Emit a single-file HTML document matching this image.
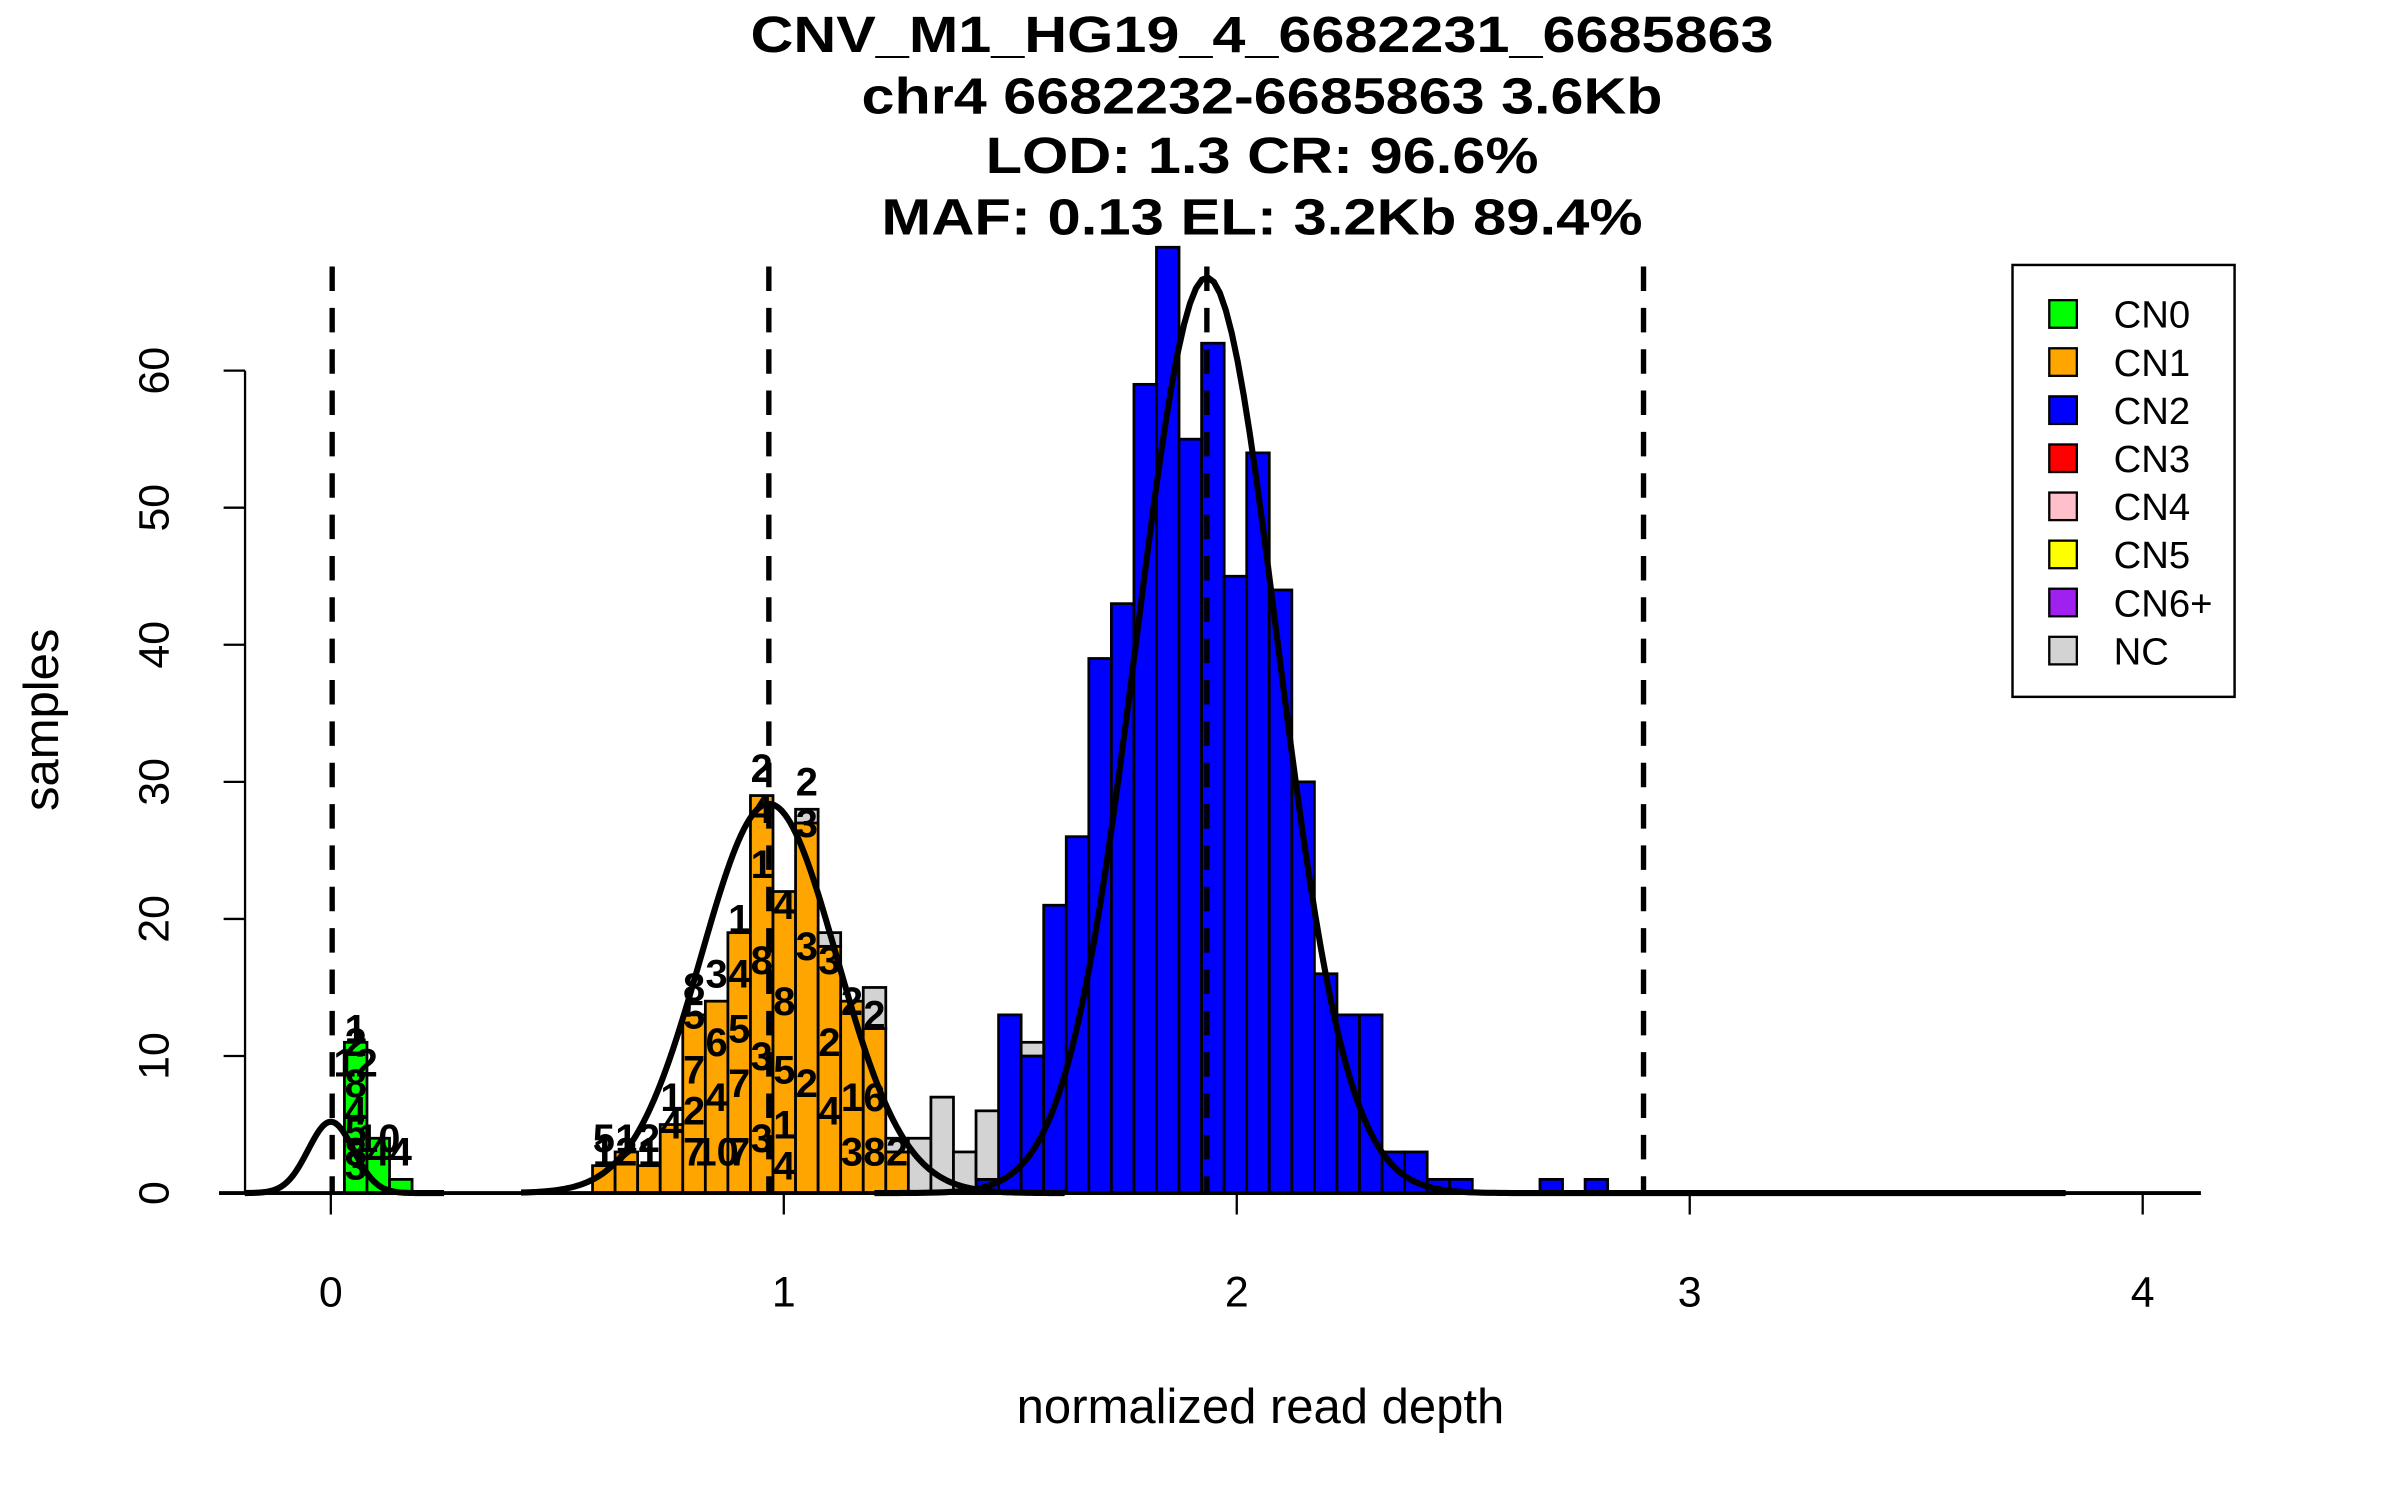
<!DOCTYPE html>
<html><head><meta charset="utf-8"><style>
html,body{margin:0;padding:0;background:#fff;}
svg{display:block;}
text{font-family:"Liberation Sans",sans-serif;}
</style></head><body>
<svg id="chart" width="2400" height="1500" viewBox="0 0 1567 979.4" preserveAspectRatio="none" xmlns="http://www.w3.org/2000/svg">
<rect x="0" y="0" width="1567" height="980" fill="#fff"/>
<g font-weight="bold" font-size="33" text-anchor="middle">
<text x="824" y="34" textLength="668" lengthAdjust="spacingAndGlyphs">CNV_M1_HG19_4_6682231_6685863</text>
<text x="824" y="74" textLength="523" lengthAdjust="spacingAndGlyphs">chr4 6682232-6685863 3.6Kb</text>
<text x="824" y="113" textLength="361" lengthAdjust="spacingAndGlyphs">LOD: 1.3 CR: 96.6%</text>
<text x="824" y="153" textLength="497" lengthAdjust="spacingAndGlyphs">MAF: 0.13 EL: 3.2Kb 89.4%</text>
</g>
<g id="bars"></g>
<g id="labels" font-weight="bold" font-size="26" text-anchor="middle"></g>
<g id="curves"></g>
<g id="thresholds"></g>
<g id="axes"></g>
<text x="823" y="929" font-size="32" text-anchor="middle">normalized read depth</text>
<text x="0" y="0" font-size="32" text-anchor="middle" transform="translate(38,470) rotate(-90)">samples</text>
<g>
<rect x="1314" y="173" width="145" height="282" fill="#fff" stroke="#000" stroke-width="1.6"/>
<g id="legend-items"></g>
</g>
</svg>
<script>
// ---- data ----
const binStart = 0.030;
const binWidth = 0.0498;
const greenCounts = [11, 4, 1];            // bins 0..2 (CN0)
const orangeBins = [11,12,13,14,15,16,17,18,19,20,21,22,23,24];
const orangeCounts = [2,3,2,5,13,14,19,29,22,27,18,14,12,3];  // CN1
const blueBins = [28,29,30,31,32,33,34,35,36,37,38,39,40,41,42,43,44,45,46,47,48,49,53,55];
const blueCounts = [1,13,10,21,26,39,43,59,69,55,62,45,54,44,30,16,13,13,3,3,1,1,1,1]; // CN2
const grayBins = [20,21,23,24,25,26,27,28,30];
const grayCounts = [1,1,3,1,4,7,3,5,1];     // NC
const thresholds = [0.003, 0.967, 1.934, 2.898];
const compMeans = [0.0, 0.967, 1.934];
const compSds = [0.05, 0.15, 0.155];
const compPeaks = [5.2, 28.4, 66.8];
const compFrom = [-0.19, 0.42, 1.2];
const compTo = [0.25, 1.62, 3.83];
const xTicks = [0, 1, 2, 3, 4];
const yTicks = [0, 10, 20, 30, 40, 50, 60];
const labelBins = [0,0,0,0,0,0,0,0,1,1,2, 11,11,12,12,13,13,14,14,15,15,15,15,15,16,16,16,16,17,17,17,17,17,18,18,18,18,18,18,19,19,19,19,19,20,20,20,20,21,21,21,22,22,22,23,23,23,24];
const labelLevels = [12,11,9.5,8,6,4.5,3,2,4,3,3, 4,3,4,3,4,3,7,5,15,13,9,6,3,16,11,7,3,20,16,12,8,3,31,28,24,17,10,4,21,14,9,5,2,30,27,18,8,17,11,6,14,7,3,13,7,3,3];
const labelTexts = ['1','2','12','8','4','5','8','3','10','4','4','5','1','1','2','2','1','1','4','8','5','7','2','7','3','6','4','10','1','4','5','7','7','2','4','1','8','3','3','4','8','5','1','4','2','3','3','2','3','2','4','2','1','3','2','6','8','2'];
const legendLabels = ['CN0','CN1','CN2','CN3','CN4','CN5','CN6+','NC'];
const legendColors = ['#00ff00','#ffa500','#0000ff','#ff0000','#ffc0cb','#ffff00','#a020f0','#d3d3d3'];

// ---- scales ----
const X0 = 216, XU = 295.75, Y0 = 779, YU = 8.95;
const sx = v => X0 + v * XU;
const sy = c => Y0 - c * YU;
const NS = 'http://www.w3.org/2000/svg';
function mk(tag, attrs, parent) {
  const e = document.createElementNS(NS, tag);
  for (const k in attrs) e.setAttribute(k, attrs[k]);
  parent.appendChild(e);
  return e;
}
const bars = document.getElementById('bars');
const base = {};
function bar(bin, count, color, name) {
  const b0 = base[bin] || 0;
  const x1 = sx(binStart + bin * binWidth), x2 = sx(binStart + (bin + 1) * binWidth);
  const r = mk('rect', {x: x1, y: sy(b0 + count), width: x2 - x1, height: count * YU, fill: color, stroke: '#000', 'stroke-width': 1.8}, bars);
  
  
  base[bin] = b0 + count;
}
greenCounts.forEach((c, i) => bar(i, c, '#00ff00', 'bar-cn0'));
orangeBins.forEach((b, i) => bar(b, orangeCounts[i], '#ffa500', 'bar-cn1'));
blueBins.forEach((b, i) => bar(b, blueCounts[i], '#0000ff', 'bar-cn2'));
grayBins.forEach((b, i) => bar(b, grayCounts[i], '#d3d3d3', 'bar-nc'));

const labels = document.getElementById('labels');
labelBins.forEach((b, i) => {
  const t = mk('text', {x: sx(binStart + (b + 0.5) * binWidth), y: sy(labelLevels[i]) + 9}, labels);
  t.textContent = labelTexts[i];
  
  
});

const curves = document.getElementById('curves');
compMeans.forEach((m, i) => {
  let d = '';
  const n = 200;
  for (let j = 0; j <= n; j++) {
    const v = compFrom[i] + (compTo[i] - compFrom[i]) * j / n;
    const c = compPeaks[i] * Math.exp(-0.5 * Math.pow((v - m) / compSds[i], 2));
    d += (j ? 'L' : 'M') + sx(v).toFixed(2) + ',' + sy(c).toFixed(2);
  }
  const p = mk('path', {d: d, fill: 'none', stroke: '#000', 'stroke-width': 4}, curves);
  
  
});

const th = document.getElementById('thresholds');
thresholds.forEach(v => {
  const l = mk('line', {x1: sx(v), x2: sx(v), y1: 174, y2: 779, stroke: '#000', 'stroke-width': 3.5, 'stroke-dasharray': '16,11'}, th);
  
  
});

const axes = document.getElementById('axes');
const xl = mk('line', {x1: 143, x2: 1437, y1: Y0, y2: Y0, stroke: '#000', 'stroke-width': 2.5}, axes);


xTicks.forEach(v => {
  const t = mk('line', {x1: sx(v), x2: sx(v), y1: Y0, y2: 793, stroke: '#000', 'stroke-width': 1.5}, axes);
  
  
  const tx = mk('text', {x: sx(v), y: 853, 'font-size': 28, 'text-anchor': 'middle'}, axes);
  tx.textContent = v;
  
  
});
const yl = mk('line', {x1: 160, x2: 160, y1: sy(0), y2: sy(60), stroke: '#000', 'stroke-width': 1.5}, axes);


yTicks.forEach(v => {
  const t = mk('line', {x1: 146, x2: 160, y1: sy(v), y2: sy(v), stroke: '#000', 'stroke-width': 1.5}, axes);
  
  
  const tx = mk('text', {x: 0, y: 0, 'font-size': 28, 'text-anchor': 'middle', transform: 'translate(110,' + sy(v) + ') rotate(-90)'}, axes);
  tx.textContent = v;
  
  
});

const li = document.getElementById('legend-items');
legendLabels.forEach((lab, i) => {
  const y = 205 + i * 31.4;
  const r = mk('rect', {x: 1338, y: y - 9, width: 18, height: 18, fill: legendColors[i], stroke: '#000', 'stroke-width': 1.5}, li);
  
  
  const t = mk('text', {x: 1380, y: y + 9, 'font-size': 25}, li);
  t.textContent = lab;
  
  
});
</script>
</body></html>
